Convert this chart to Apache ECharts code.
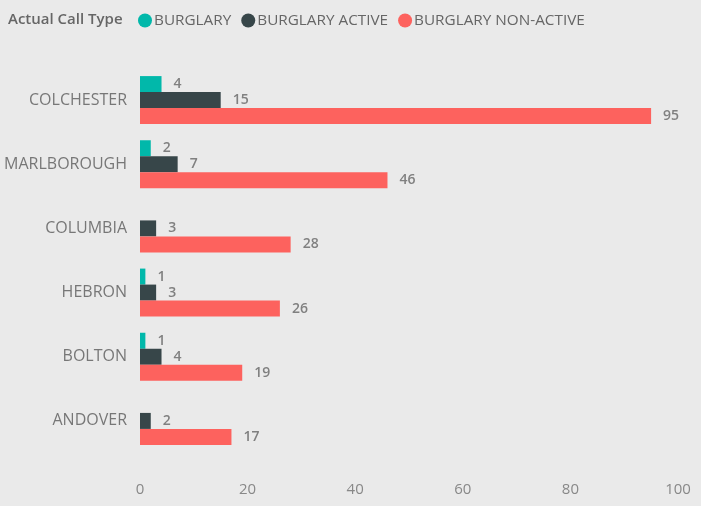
<!DOCTYPE html>
<html><head><meta charset="utf-8">
<script src="https://cdn.jsdelivr.net/npm/echarts@6/dist/echarts.min.js"></script>
<style>html,body{margin:0;padding:0;background:#eaeaea;}#c{width:701px;height:506px;}</style>
</head><body><div id="c"></div>
<script>
const categories = ['COLCHESTER','MARLBOROUGH','COLUMBIA','HEBRON','BOLTON','ANDOVER'];
const burglary = [4, 2, null, 1, 1, null];
const burglaryActive = [15, 7, 3, 3, 4, 2];
const burglaryNonActive = [95, 46, 28, 26, 19, 17];
const seriesNames = ['BURGLARY','BURGLARY ACTIVE','BURGLARY NON-ACTIVE'];
const colors = ['#01B8AA','#374649','#FD625E'];
const xTicks = {min:0, max:100, interval:20};

const font = '"Open Sans", "Noto Sans", sans-serif';
const chart = echarts.init(document.getElementById('c'), null, {renderer:'canvas'});
const mk = (name, data, color) => ({
  name, type:'bar', data, barWidth:16, barGap:'0%', barCategoryGap:'25%',
  itemStyle:{color},
  label:{show:true, position:'right', distance:12, color:'#808080', fontWeight:600, fontSize:14, fontFamily:font},
  emphasis:{disabled:true}, animation:false
});
chart.setOption({
  backgroundColor:'#eaeaea',
  animation:false,
  title:{text:'Actual Call Type', left:3, top:7, textStyle:{color:'#666', fontSize:15, fontWeight:600, fontFamily:font}},
  legend:{left:133, top:8, icon:'circle', itemWidth:14, itemHeight:14, itemGap:10,
    data:seriesNames, textStyle:{color:'#666', fontSize:15.3, fontFamily:font, padding:[0,0,0,-3]}},
  grid:{left:140, right:23, top:68, bottom:53},
  xAxis:{type:'value', min:xTicks.min, max:xTicks.max, interval:xTicks.interval,
    splitLine:{show:false}, axisLine:{show:false}, axisTick:{show:false},
    axisLabel:{color:'#888', fontSize:15, margin:29, fontFamily:font}},
  yAxis:{type:'category', data:categories, inverse:true,
    axisLine:{show:false}, axisTick:{show:false},
    axisLabel:{color:'#777', fontSize:16, margin:13, fontFamily:font}},
  series:[
    mk(seriesNames[0], burglary, colors[0]),
    mk(seriesNames[1], burglaryActive, colors[1]),
    mk(seriesNames[2], burglaryNonActive, colors[2])
  ]
});
</script></body></html>
